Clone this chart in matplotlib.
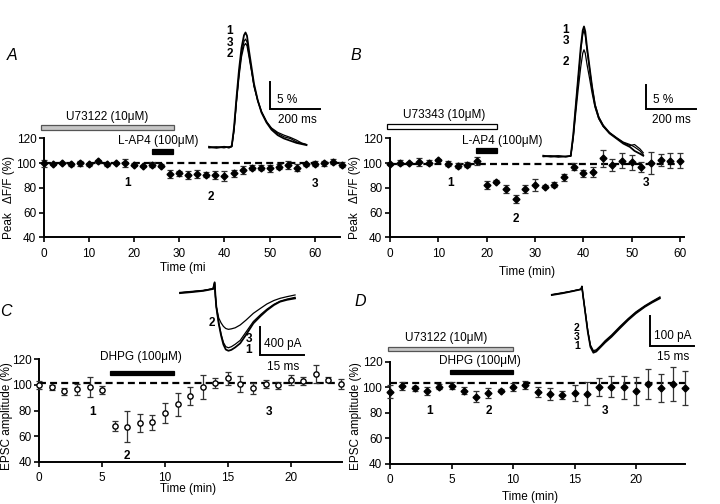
import matplotlib.pyplot as plt
from matplotlib.patches import Rectangle

plt.rcParams['font.family'] = ['Liberation Sans', 'DejaVu Sans']
plt.rcParams['lines.scale_dashes'] = False

# ---- time course data ----
tA = [0, 2, 4, 6, 8, 10, 12, 14, 16, 18, 20, 22, 24, 26, 28, 30, 32, 34, 36, 38, 40,
      42, 44, 46, 48, 50, 52, 54, 56, 58, 60, 62, 64, 66]
meanA = [99.8, 99.3, 100.0, 99.0, 100.0, 99.0, 101.4, 99.0, 100.0, 100.0, 98.7, 97.6,
         98.5, 98.0, 91.0, 91.7, 90.4, 91.0, 90.4, 90.4, 89.6, 91.7, 94.4, 96.3, 96.3,
         95.8, 97.0, 98.5, 96.3, 99.0, 99.3, 100.0, 101.0, 98.5]
errA = [3, 1, 1, 1, 2, 1, 1, 1, 1, 3, 1, 1, 2, 1, 3, 2, 3, 3, 2, 3, 4, 3, 3, 2, 2, 3,
        2, 3, 3, 1, 2, 2, 2, 2]

tB = [0, 2, 4, 6, 8, 10, 12, 14, 16, 18, 20, 22, 24, 26, 28, 30, 32, 34, 36, 38, 40,
      42, 44, 46, 48, 50, 52, 54, 56, 58, 60]
meanB = [99.3, 100.3, 100.0, 101.0, 100.3, 102.5, 99.3, 98.0, 98.5, 101.7, 82.3, 85.0,
         79.0, 71.0, 79.0, 82.3, 81.0, 82.3, 88.5, 97.0, 91.7, 93.0, 103.8, 98.5, 102.0,
         100.6, 97.0, 100.3, 102.5, 102.0, 102.0]
errB = [1, 2, 1, 3, 2, 1, 2, 2, 2, 3, 3, 1, 3, 3, 3, 5, 1, 2, 3, 3, 3, 4, 7, 5, 6, 6,
        4, 9, 5, 6, 6]

tC = [0, 1, 2, 3, 4, 5, 6, 7, 8, 9, 10, 11, 12, 13, 14, 15, 16, 17, 18, 19, 20, 21,
      22, 23, 24]
meanC = [100.0, 97.9, 94.8, 96.4, 98.3, 96.0, 67.9, 67.4, 70.2, 70.7, 78.1, 84.8, 91.2,
         98.3, 101.2, 105.0, 100.5, 97.1, 100.7, 99.5, 103.8, 103.1, 108.6, 103.8, 100.7]
errC = [3, 2, 3, 4, 8, 3, 4, 12, 7, 6, 8, 9, 7, 9, 4, 5, 6, 4, 3, 3, 4, 3, 7, 2, 4]

tD = tC
meanD = [96.6, 100.8, 99.2, 96.9, 100.5, 101.3, 97.4, 92.7, 95.6, 97.4, 100.0, 101.8,
         96.6, 94.8, 94.0, 95.6, 94.8, 100.0, 100.5, 100.0, 96.9, 102.6, 99.5, 102.6, 99.5]
errD = [5, 3, 2, 3, 2, 3, 3, 4, 4, 1, 3, 3, 4, 5, 3, 6, 9, 7, 8, 9, 11, 12, 11, 13, 13]

baseA, baseB, baseC, baseD = 100, 99, 101, 103

# ---- example traces ----
trA_t = [0, 30, 60, 80, 91, 100, 110, 120, 130, 140, 146, 152, 160, 170, 180, 195, 210,
         230, 250, 275, 300, 325, 350, 370, 390]
trA_1 = [0.1, -0.1, 0.1, 0.0, 0.2, 3.5, 9.0, 14.0, 18.0, 20.3, 20.8, 20.2, 17.5, 14.5,
         11.5, 8.5, 6.3, 4.5, 3.2, 2.2, 1.6, 1.2, 0.8, 0.6, 0.4]
trA_3 = [0.0, 0.1, -0.1, 0.1, 0.2, 3.2, 8.5, 13.3, 17.0, 19.2, 19.6, 19.1, 16.8, 14.0,
         11.2, 8.5, 6.5, 4.7, 3.4, 2.5, 1.9, 1.6, 1.0, 0.7, 0.5]
trA_2 = [-0.1, 0.0, 0.1, -0.1, 0.1, 3.0, 8.2, 12.8, 16.4, 18.4, 18.8, 18.4, 16.4, 13.8,
         11.0, 8.4, 6.4, 4.6, 3.5, 2.7, 2.2, 1.8, 1.3, 0.8, 0.5]

trB_t = [0, 30, 60, 90, 110, 120, 130, 140, 150, 158, 163, 168, 175, 185, 195, 207, 222,
         240, 265, 294, 320, 347, 365, 387, 400]
trB_1 = [0.2, 0.0, 0.1, 0.0, 0.2, 4.5, 10.5, 16.5, 22.5, 26.0, 26.8, 25.8, 22.5, 18.5,
         14.5, 10.6, 8.0, 6.3, 4.8, 3.7, 2.7, 2.0, 1.2, 0.6, 0.2]
trB_3 = [0.1, 0.2, -0.1, 0.1, 0.1, 4.3, 10.2, 16.0, 21.8, 25.2, 26.0, 25.0, 22.0, 18.2,
         14.4, 10.8, 8.2, 6.5, 5.0, 3.9, 3.0, 2.5, 2.0, 1.2, 0.4]
trB_2 = [0.0, 0.1, 0.2, 0.0, 0.1, 3.8, 9.0, 14.0, 18.5, 21.3, 22.0, 21.3, 19.0, 16.2,
         13.2, 10.2, 7.8, 6.2, 4.9, 3.8, 2.9, 2.3, 2.5, 1.6, 0.8]

trC_t = [0, 4, 8, 11.3, 11.8, 12.1, 12.4, 13.2, 14.0, 14.8, 15.6, 16.5, 17.5, 18.8, 20.5,
         22.5, 25.0, 27.5, 29.6, 32.0, 34.1, 36.5, 39.2]
trC_1 = [-45, -30, -12, 15, 110, -100, -250, -480, -650, -780, -850, -868, -855, -820,
         -762, -640, -476, -370, -290, -215, -167, -140, -120]
trC_3 = [-40, -25, -8, 18, 100, -100, -250, -470, -630, -750, -810, -825, -810, -775,
         -720, -600, -450, -350, -275, -205, -160, -130, -105]
trC_2 = [-35, -20, -5, 20, 105, -100, -240, -400, -470, -520, -550, -562, -555, -540,
         -500, -430, -333, -260, -200, -150, -119, -95, -71]

trD_t = [2.3, 6, 9, 12.3, 12.6, 13.0, 13.8, 14.6, 15.5, 16.5, 17.5, 19.0, 20.5, 22.7,
         25.5, 28.4, 31.0, 34.1, 36.5, 39.2]
trD_1 = [-17, -11, -5, 2, 12, -20, -80, -140, -190, -209, -205, -190, -175, -156, -128,
         -100, -78, -56, -42, -28]
trD_3 = [-16, -10, -4, 3, 12, -20, -78, -137, -186, -205, -202, -188, -172, -153, -125,
         -97, -75, -54, -40, -25]
trD_2 = [-15, -9, -4, 3, 11, -20, -76, -134, -183, -202, -199, -185, -169, -150, -122,
         -95, -73, -52, -38, -23]

W, H = 720, 504
fig = plt.figure(figsize=(W / 100, H / 100), dpi=100)


def px_axes(x0, y0, x1, y1):
    return fig.add_axes([x0 / W, 1 - y1 / H, (x1 - x0) / W, (y1 - y0) / H])


def ftext(x, y, s, **kw):
    kw.setdefault('ha', 'center')
    kw.setdefault('va', 'center')
    fig.text(x / W, 1 - y / H, s, **kw)


def style_axes(ax, xmax, xticks):
    ax.set_xlim(0, xmax)
    ax.set_ylim(40, 120)
    ax.set_yticks([40, 60, 80, 100, 120])
    ax.set_xticks(xticks)
    for s in ['top', 'right']:
        ax.spines[s].set_visible(False)
    for s in ['left', 'bottom']:
        ax.spines[s].set_linewidth(1.4)
    ax.tick_params(length=3.5, width=1.2, pad=4, labelsize=8.5)
    ax.tick_params(axis='y', pad=2)
    ax.patch.set_alpha(0)


def timecourse(ax, t, m, e, base, marker='D', mfc='black', ms=3.5):
    ax.plot([t[0], t[-1]], [base, base], color='black', lw=1.6, dashes=(5, 3),
            clip_on=False, zorder=1)
    ax.errorbar(t, m, yerr=e, fmt=marker, color='black', mfc=mfc, mec='black', ms=ms,
                ecolor='#333333', elinewidth=0.9, capsize=2.5, capthick=0.9,
                clip_on=False, zorder=3)


def bar(ax, x0, x1, y, fc, ec, h=4.0):
    ax.add_patch(Rectangle((x0, y - h / 2), x1 - x0, h, facecolor=fc, edgecolor=ec,
                           lw=0.9, clip_on=False))


def nums(ax, pts):
    for s, (x, y) in zip(['1', '2', '3'], pts):
        ax.text(x, y, s, ha='center', va='center', fontsize=8.5, fontweight='bold')


# ---- A ----
axA = px_axes(44, 138.3, 340, 237.3)
style_axes(axA, 65.6, [0, 10, 20, 30, 40, 50, 60])
timecourse(axA, tA, meanA, errA, baseA)
bar(axA, -0.7, 28.8, 129, '#c6c6c6', '#555555')
axA.text(14, 137.5, 'U73122 (10μM)', ha='center', va='center', fontsize=8.5)
bar(axA, 23.9, 28.5, 109.6, 'black', 'black')
axA.text(25.3, 117.7, 'L-AP4 (100μM)', ha='center', va='center', fontsize=8.5)
nums(axA, [(18.6, 83.8), (36.9, 72.5), (60, 83.3)])
ftext(160, 268, 'Time (mi', ha='left', fontsize=8.5)
ftext(9, 197, 'Peak   ΔF/F (%)', rotation=90, fontsize=8.5)

# ---- B ----
axB = px_axes(390, 138.3, 684, 237.3)
style_axes(axB, 60.8, [0, 10, 20, 30, 40, 50, 60])
timecourse(axB, tB, meanB, errB, baseB)
bar(axB, -0.55, 22.2, 129.4, 'white', 'black')
axB.text(11.3, 138.5, 'U73343 (10μM)', ha='center', va='center', fontsize=8.5)
bar(axB, 17.7, 22.2, 110, 'black', 'black')
axB.text(23.3, 118, 'L-AP4 (100μM)', ha='center', va='center', fontsize=8.5)
nums(axB, [(12.6, 84.1), (26.1, 54.5), (53, 84.1)])
ftext(526.7, 271.7, 'Time (min)', fontsize=8.5)
ftext(355, 197, 'Peak   ΔF/F (%)', rotation=90, fontsize=8.5)

# ---- C ----
axC = px_axes(39.3, 359, 341.7, 462)
style_axes(axC, 24.06, [0, 5, 10, 15, 20])
timecourse(axC, tC, meanC, errC, baseC, marker='o', mfc='white', ms=3.8)
bar(axC, 5.6, 10.7, 109.1, 'black', 'black', h=3.6)
axC.text(8.1, 121.8, 'DHPG (100μM)', ha='center', va='center', fontsize=8.5)
nums(axC, [(4.2, 79), (7.0, 45), (18.3, 79)])
ftext(188.3, 489.3, 'Time (min)', fontsize=8.5)
ftext(7, 416, 'EPSC amplitude (%)', rotation=90, fontsize=8.5)

# ---- D ----
axD = px_axes(390, 361.7, 685, 464)
style_axes(axD, 23.98, [0, 5, 10, 15, 20])
timecourse(axD, tD, meanD, errD, baseD)
bar(axD, -0.2, 10.0, 129.9, '#c6c6c6', '#555555', h=3.6)
axD.text(4.6, 138.5, 'U73122 (10μM)', ha='center', va='center', fontsize=8.5)
bar(axD, 4.87, 10.0, 111.9, 'black', 'black', h=3.6)
axD.text(7.3, 120.5, 'DHPG (100μM)', ha='center', va='center', fontsize=8.5)
nums(axD, [(3.2, 81.7), (8.0, 81.7), (17.5, 81.7)])
ftext(530, 497.3, 'Time (min)', fontsize=8.5)
ftext(356, 416, 'EPSC amplitude (%)', rotation=90, fontsize=8.5)

# panel letters
for s, x, y in [('A', 12, 56), ('B', 356, 56), ('C', 6, 312), ('D', 360, 302)]:
    ftext(x, y, s, fontsize=11.5, style='italic')


# ---- insets ----
def inset(box, xlim, ylim, t, traces, lws):
    ax = px_axes(*box)
    ax.set_xlim(*xlim)
    ax.set_ylim(*ylim)
    ax.axis('off')
    for tr, lw in zip(traces, lws):
        ax.plot(t, tr, color='black', lw=lw)
    return ax


def scalebar(ax, x, y, dx, dy):
    ax.plot([x, x, x + dx], [y + dy, y, y], color='black', lw=1.4,
            solid_joinstyle='miter', clip_on=False)


insA = inset((200, 20, 330, 155), (-36, 484), (-1.39, 23.06), trA_t,
             [trA_2, trA_3, trA_1], [0.9, 0.9, 1.3])
scalebar(insA, 244, 6.88, 200, 5)
ftext(230, 42.5, '1\n3\n2', fontsize=8.5, fontweight='bold', linespacing=0.95)
ftext(287, 100, '5 %', fontsize=8.5)
ftext(297, 120, '200 ms', fontsize=8.5)

insB = inset((535, 10, 705, 165), (-33, 647), (-1.71, 30.19), trB_t,
             [trB_2, trB_3, trB_1], [0.9, 0.9, 1.3])
scalebar(insB, 411, 9.75, 200, 5)
ftext(566, 35.5, '1\n3', fontsize=8.5, fontweight='bold', linespacing=0.95)
ftext(566, 61.7, '2', fontsize=8.5, fontweight='bold')
ftext(663, 100, '5 %', fontsize=8.5)
ftext(671, 120, '200 ms', fontsize=8.5)

insC = inset((175, 275, 320, 375), (-1.7, 47.7), (-1214, 214), trC_t,
             [trC_2, trC_3, trC_1], [0.9, 0.9, 1.3])
scalebar(insC, 27.3, -929, 15, 400)
ftext(211.7, 322.7, '2', fontsize=8.5, fontweight='bold')
ftext(249, 344.5, '3\n1', fontsize=8.5, fontweight='bold', linespacing=0.85)
ftext(283, 344, '400 pA', fontsize=8.5)
ftext(283, 366.7, '15 ms', fontsize=8.5)

insD = inset((540, 275, 710, 375), (-1.7, 56.3), (-283, 50), trD_t,
             [trD_2, trD_3, trD_1], [0.9, 0.9, 1.2])
scalebar(insD, 35.8, -187, 15, 100)
ftext(577, 337, '2\n3\n1', fontsize=7.5, fontweight='bold', linespacing=0.92)
ftext(673, 336, '100 pA', fontsize=8.5)
ftext(673, 356.7, '15 ms', fontsize=8.5)

fig.savefig('out.png', dpi=100)
